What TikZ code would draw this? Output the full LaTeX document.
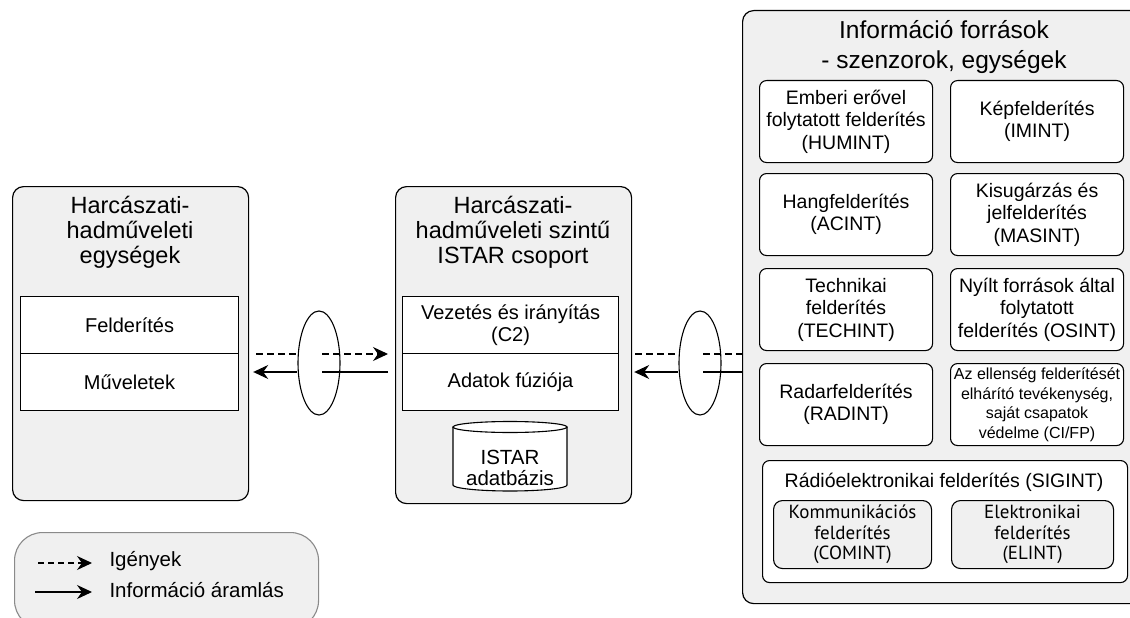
\documentclass[tikz,border=0pt]{standalone}
\usepackage{fontspec}
\setmainfont{Liberation Sans}
\newfontfamily\subfont{PT Sans}
\usetikzlibrary{arrows.meta, positioning, shapes.geometric, calc}
\definecolor{panelgray}{HTML}{F0F0F0}
\definecolor{legendgray}{HTML}{8A8A8A}

\tikzset{
  panel/.style={draw, line width=1.2pt, fill=panelgray, rounded corners=11pt, anchor=north west},
  layerbox/.style={draw, line width=1.1pt, fill=white, anchor=north west, align=center,
    font=\fontsize{20}{22}\selectfont},
  srcbox/.style={draw, line width=1.1pt, fill=white, rounded corners=7pt, anchor=north west,
    align=center, minimum width=173pt, minimum height=82pt, font=\fontsize{19.5}{22.5}\selectfont},
  subbox/.style={draw, line width=1.1pt, fill=panelgray, rounded corners=9pt, anchor=north west,
    align=center, minimum width=160pt, minimum height=68pt, font=\subfont\fontsize{19}{20.5}\selectfont},
  paneltitle/.style={align=center, font=\fontsize{23.5}{25}\selectfont},
  pipe/.style={draw, ellipse, line width=1.1pt, minimum width=42pt, minimum height=104pt, inner sep=0pt},
  flow/.style={line width=1.1pt},
  req/.style={flow, dash pattern=on 7pt off 4pt},
  tip/.style={-{Stealth[length=15pt, width=14pt, inset=5pt]}}
}

\begin{document}
\begin{tikzpicture}[x=1pt, y=-1pt]
  \useasboundingbox (0,0) rectangle (1130,618);

  % Left panel: units
  \node[panel, minimum width=236pt, minimum height=314pt] (units) at (12,186) {};
  \node[paneltitle] (unitstitle) at (130,232) {Harcászati-\\hadműveleti\\egységek};
  \node[layerbox, minimum width=218pt, minimum height=57pt] (recon) at (20,296) {Felderítés};
  \node[layerbox, minimum width=218pt, minimum height=57pt] (ops) at (20,353) {Műveletek};

  % Middle panel: ISTAR group
  \node[panel, minimum width=236pt, minimum height=317pt] (istar) at (395,186) {};
  \node[paneltitle] (istartitle) at (513,232) {Harcászati-\\hadműveleti szintű\\ISTAR csoport};
  \node[layerbox, minimum width=216pt, minimum height=57pt] (ctwo) at (402,296) {Vezetés és irányítás\\(C2)};
  \node[layerbox, minimum width=216pt, minimum height=57pt] (fusion) at (402,353) {Adatok fúziója};

  % Database cylinder
  \fill[white] (453,427) rectangle (567,485);
  \draw[line width=1.1pt, fill=white] (453,427) -- (453,485)
    arc[start angle=180, end angle=360, x radius=57pt, y radius=6pt] -- (567,427);
  \draw[line width=1.1pt, fill=white] (510,427) ellipse[x radius=57, y radius=5.5];
  \node[align=center, font=\fontsize{20.5}{21}\selectfont] (db) at (510,468) {ISTAR\\adatbázis};

  % Right panel: sources
  \node[panel, minimum width=400pt, minimum height=593pt] (sources) at (742,10) {};
  \node[paneltitle, font=\fontsize{24.5}{30}\selectfont] (sourcestitle) at (944,47)
    {Információ források\\- szenzorok, egységek};
  \node[srcbox] (humint) at (759,80) {Emberi erővel\\folytatott felderítés\\(HUMINT)};
  \node[srcbox] (imint) at (950,80) {Képfelderítés\\(IMINT)};
  \node[srcbox] (acint) at (759,173) {Hangfelderítés\\(ACINT)};
  \node[srcbox] (masint) at (950,173) {Kisugárzás és\\jelfelderítés\\(MASINT)};
  \node[srcbox] (techint) at (759,268) {Technikai\\felderítés\\(TECHINT)};
  \node[srcbox] (osint) at (950,268) {Nyílt források által\\folytatott\\felderítés (OSINT)};
  \node[srcbox] (radint) at (759,363) {Radarfelderítés\\(RADINT)};
  \node[srcbox, font=\fontsize{16}{19.5}\selectfont, inner sep=1pt] (cifp) at (950,363)
    {Az ellenség felderítését\\elhárító tevékenység,\\saját csapatok\\védelme (CI/FP)};
  \node[srcbox, minimum width=365pt, minimum height=122pt] (sigint) at (762,460) {};
  \node[font=\fontsize{19.5}{22}\selectfont] (siginttitle) at (944,482)
    {Rádióelektronikai felderítés (SIGINT)};
  \node[subbox, minimum width=158pt] (comint) at (773,500) {Kommunikációs\\felderítés\\(COMINT)};
  \node[subbox, minimum width=162pt] (elint) at (951,500) {Elektronikai\\felderítés\\(ELINT)};

  % Channels
  \node[pipe] (pipeL) at (319,363) {};
  \node[pipe] (pipeR) at (700,363) {};
  \coordinate (reqrow) at (0,354);
  \coordinate (inforow) at (0,372);

  \draw[req] ([xshift=7pt]units.east |- reqrow) -- (pipeL.west |- reqrow);
  \draw[req, tip] ([xshift=3pt]pipeL.center |- reqrow) -- ([xshift=-7pt]istar.west |- reqrow);
  \draw[flow, tip] (pipeL.west |- inforow) -- ([xshift=4pt]units.east |- inforow);
  \draw[flow] ([xshift=-7pt]istar.west |- inforow) -- ([xshift=3pt]pipeL.center |- inforow);

  \draw[req] ([xshift=3pt]istar.east |- reqrow) -- (pipeR.west |- reqrow);
  \draw[req] ([xshift=3pt]pipeR.center |- reqrow) -- (sources.west |- reqrow);
  \draw[flow, tip] (pipeR.west |- inforow) -- ([xshift=2pt]istar.east |- inforow);
  \draw[flow] (sources.west |- inforow) -- ([xshift=3pt]pipeR.center |- inforow);

  % Legend
  \node[draw=legendgray, line width=1.1pt, fill=panelgray, rounded corners=28pt, anchor=north west,
    minimum width=304pt, minimum height=96pt] (legend) at (14,532) {};
  \coordinate (reqstart) at (38,563);
  \coordinate (infostart) at (35,592);
  \node[right, font=\fontsize{20.5}{22}\selectfont] (reqlabel) at (106,561) {Igények};
  \node[right, font=\fontsize{20.5}{22}\selectfont] (infolabel) at (106,590) {Információ áramlás};
  \draw[req, dash pattern=on 6pt off 4pt, tip] (reqstart) -- ([xshift=-14pt]reqstart -| reqlabel.west);
  \draw[flow, tip] (infostart) -- ([xshift=-14pt]infostart -| infolabel.west);
\end{tikzpicture}
\end{document}
